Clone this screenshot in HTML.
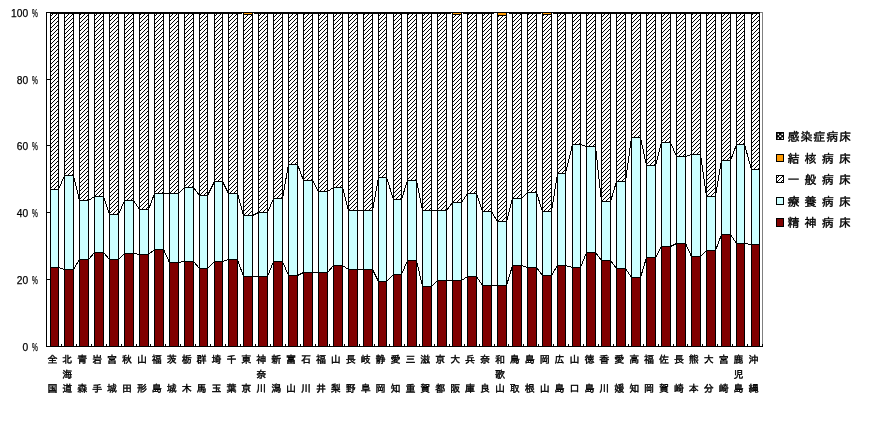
<!DOCTYPE html>
<html lang="ja"><head><meta charset="utf-8"><title>病床の種類別構成割合</title>
<style>html,body{margin:0;padding:0;background:#fff}body{width:876px;height:430px;overflow:hidden}svg{display:block}.j{font-family:"Liberation Sans","IPAGothic","Noto Sans CJK JP",sans-serif;fill:#000;stroke:#000;stroke-width:.4px}.n{font-family:"Liberation Sans",sans-serif;fill:#000;font-size:11px;stroke:#000;stroke-width:.25px}</style></head><body>
<svg width="876" height="430" viewBox="0 0 876 430">
<defs><pattern id="h" width="4" height="4" patternUnits="userSpaceOnUse" shape-rendering="crispEdges"><rect width="4" height="4" fill="#fff"/><rect x="2" y="0" width="1" height="1"/><rect x="1" y="1" width="1" height="1"/><rect x="0" y="2" width="1" height="1"/><rect x="3" y="3" width="1" height="1"/></pattern></defs>
<rect width="876" height="430" fill="#fff"/>
<g shape-rendering="crispEdges">
<rect x="46" y="12" width="717" height="1" fill="#808080"/>
<rect x="762" y="12" width="1" height="335" fill="#808080"/>
<line x1="58.5" y1="189.5" x2="64.5" y2="175.5" stroke="#000" stroke-width="1"/>
<line x1="58.5" y1="267.5" x2="64.5" y2="269.5" stroke="#000" stroke-width="1"/>
<line x1="73.5" y1="175.5" x2="79.5" y2="200.5" stroke="#000" stroke-width="1"/>
<line x1="73.5" y1="269.5" x2="79.5" y2="259.5" stroke="#000" stroke-width="1"/>
<line x1="88.5" y1="200.5" x2="94.5" y2="196.5" stroke="#000" stroke-width="1"/>
<line x1="88.5" y1="259.5" x2="94.5" y2="252.5" stroke="#000" stroke-width="1"/>
<line x1="103.5" y1="196.5" x2="109.5" y2="214.5" stroke="#000" stroke-width="1"/>
<line x1="103.5" y1="252.5" x2="109.5" y2="259.5" stroke="#000" stroke-width="1"/>
<line x1="118.5" y1="214.5" x2="124.5" y2="200.5" stroke="#000" stroke-width="1"/>
<line x1="118.5" y1="259.5" x2="124.5" y2="253.5" stroke="#000" stroke-width="1"/>
<line x1="133.5" y1="200.5" x2="139.5" y2="209.5" stroke="#000" stroke-width="1"/>
<line x1="133.5" y1="253.5" x2="139.5" y2="254.5" stroke="#000" stroke-width="1"/>
<line x1="148.5" y1="209.5" x2="154.5" y2="193.5" stroke="#000" stroke-width="1"/>
<line x1="148.5" y1="254.5" x2="154.5" y2="249.5" stroke="#000" stroke-width="1"/>
<line x1="163.5" y1="193.5" x2="169.5" y2="193.5" stroke="#000" stroke-width="1"/>
<line x1="163.5" y1="249.5" x2="169.5" y2="262.5" stroke="#000" stroke-width="1"/>
<line x1="178.5" y1="193.5" x2="184.5" y2="187.5" stroke="#000" stroke-width="1"/>
<line x1="178.5" y1="262.5" x2="184.5" y2="261.5" stroke="#000" stroke-width="1"/>
<line x1="193.5" y1="187.5" x2="199.5" y2="195.5" stroke="#000" stroke-width="1"/>
<line x1="193.5" y1="261.5" x2="199.5" y2="268.5" stroke="#000" stroke-width="1"/>
<line x1="207.5" y1="195.5" x2="214.5" y2="181.5" stroke="#000" stroke-width="1"/>
<line x1="207.5" y1="268.5" x2="214.5" y2="261.5" stroke="#000" stroke-width="1"/>
<line x1="222.5" y1="181.5" x2="228.5" y2="193.5" stroke="#000" stroke-width="1"/>
<line x1="222.5" y1="261.5" x2="228.5" y2="259.5" stroke="#000" stroke-width="1"/>
<line x1="237.5" y1="193.5" x2="243.5" y2="215.5" stroke="#000" stroke-width="1"/>
<line x1="237.5" y1="259.5" x2="243.5" y2="276.5" stroke="#000" stroke-width="1"/>
<line x1="252.5" y1="215.5" x2="258.5" y2="212.5" stroke="#000" stroke-width="1"/>
<line x1="252.5" y1="276.5" x2="258.5" y2="276.5" stroke="#000" stroke-width="1"/>
<line x1="267.5" y1="212.5" x2="273.5" y2="198.5" stroke="#000" stroke-width="1"/>
<line x1="267.5" y1="276.5" x2="273.5" y2="261.5" stroke="#000" stroke-width="1"/>
<line x1="282.5" y1="198.5" x2="288.5" y2="164.5" stroke="#000" stroke-width="1"/>
<line x1="282.5" y1="261.5" x2="288.5" y2="275.5" stroke="#000" stroke-width="1"/>
<line x1="297.5" y1="164.5" x2="303.5" y2="180.5" stroke="#000" stroke-width="1"/>
<line x1="297.5" y1="275.5" x2="303.5" y2="272.5" stroke="#000" stroke-width="1"/>
<line x1="312.5" y1="180.5" x2="318.5" y2="191.5" stroke="#000" stroke-width="1"/>
<line x1="312.5" y1="272.5" x2="318.5" y2="272.5" stroke="#000" stroke-width="1"/>
<line x1="327.5" y1="191.5" x2="333.5" y2="187.5" stroke="#000" stroke-width="1"/>
<line x1="327.5" y1="272.5" x2="333.5" y2="265.5" stroke="#000" stroke-width="1"/>
<line x1="342.5" y1="187.5" x2="348.5" y2="210.5" stroke="#000" stroke-width="1"/>
<line x1="342.5" y1="265.5" x2="348.5" y2="269.5" stroke="#000" stroke-width="1"/>
<line x1="357.5" y1="210.5" x2="363.5" y2="210.5" stroke="#000" stroke-width="1"/>
<line x1="357.5" y1="269.5" x2="363.5" y2="269.5" stroke="#000" stroke-width="1"/>
<line x1="372.5" y1="210.5" x2="378.5" y2="177.5" stroke="#000" stroke-width="1"/>
<line x1="372.5" y1="269.5" x2="378.5" y2="281.5" stroke="#000" stroke-width="1"/>
<line x1="386.5" y1="177.5" x2="393.5" y2="199.5" stroke="#000" stroke-width="1"/>
<line x1="386.5" y1="281.5" x2="393.5" y2="274.5" stroke="#000" stroke-width="1"/>
<line x1="401.5" y1="199.5" x2="407.5" y2="180.5" stroke="#000" stroke-width="1"/>
<line x1="401.5" y1="274.5" x2="407.5" y2="260.5" stroke="#000" stroke-width="1"/>
<line x1="416.5" y1="180.5" x2="422.5" y2="210.5" stroke="#000" stroke-width="1"/>
<line x1="416.5" y1="260.5" x2="422.5" y2="286.5" stroke="#000" stroke-width="1"/>
<line x1="431.5" y1="210.5" x2="437.5" y2="210.5" stroke="#000" stroke-width="1"/>
<line x1="431.5" y1="286.5" x2="437.5" y2="280.5" stroke="#000" stroke-width="1"/>
<line x1="446.5" y1="210.5" x2="452.5" y2="202.5" stroke="#000" stroke-width="1"/>
<line x1="446.5" y1="280.5" x2="452.5" y2="280.5" stroke="#000" stroke-width="1"/>
<line x1="461.5" y1="202.5" x2="467.5" y2="193.5" stroke="#000" stroke-width="1"/>
<line x1="461.5" y1="280.5" x2="467.5" y2="276.5" stroke="#000" stroke-width="1"/>
<line x1="476.5" y1="193.5" x2="482.5" y2="211.5" stroke="#000" stroke-width="1"/>
<line x1="476.5" y1="276.5" x2="482.5" y2="285.5" stroke="#000" stroke-width="1"/>
<line x1="491.5" y1="211.5" x2="497.5" y2="221.5" stroke="#000" stroke-width="1"/>
<line x1="491.5" y1="285.5" x2="497.5" y2="285.5" stroke="#000" stroke-width="1"/>
<line x1="506.5" y1="221.5" x2="512.5" y2="198.5" stroke="#000" stroke-width="1"/>
<line x1="506.5" y1="285.5" x2="512.5" y2="265.5" stroke="#000" stroke-width="1"/>
<line x1="521.5" y1="198.5" x2="527.5" y2="192.5" stroke="#000" stroke-width="1"/>
<line x1="521.5" y1="265.5" x2="527.5" y2="267.5" stroke="#000" stroke-width="1"/>
<line x1="536.5" y1="192.5" x2="542.5" y2="211.5" stroke="#000" stroke-width="1"/>
<line x1="536.5" y1="267.5" x2="542.5" y2="275.5" stroke="#000" stroke-width="1"/>
<line x1="551.5" y1="211.5" x2="557.5" y2="173.5" stroke="#000" stroke-width="1"/>
<line x1="551.5" y1="275.5" x2="557.5" y2="265.5" stroke="#000" stroke-width="1"/>
<line x1="565.5" y1="173.5" x2="572.5" y2="144.5" stroke="#000" stroke-width="1"/>
<line x1="565.5" y1="265.5" x2="572.5" y2="267.5" stroke="#000" stroke-width="1"/>
<line x1="580.5" y1="144.5" x2="586.5" y2="146.5" stroke="#000" stroke-width="1"/>
<line x1="580.5" y1="267.5" x2="586.5" y2="252.5" stroke="#000" stroke-width="1"/>
<line x1="595.5" y1="146.5" x2="601.5" y2="201.5" stroke="#000" stroke-width="1"/>
<line x1="595.5" y1="252.5" x2="601.5" y2="260.5" stroke="#000" stroke-width="1"/>
<line x1="610.5" y1="201.5" x2="616.5" y2="181.5" stroke="#000" stroke-width="1"/>
<line x1="610.5" y1="260.5" x2="616.5" y2="268.5" stroke="#000" stroke-width="1"/>
<line x1="625.5" y1="181.5" x2="631.5" y2="137.5" stroke="#000" stroke-width="1"/>
<line x1="625.5" y1="268.5" x2="631.5" y2="277.5" stroke="#000" stroke-width="1"/>
<line x1="640.5" y1="137.5" x2="646.5" y2="165.5" stroke="#000" stroke-width="1"/>
<line x1="640.5" y1="277.5" x2="646.5" y2="257.5" stroke="#000" stroke-width="1"/>
<line x1="655.5" y1="165.5" x2="661.5" y2="142.5" stroke="#000" stroke-width="1"/>
<line x1="655.5" y1="257.5" x2="661.5" y2="246.5" stroke="#000" stroke-width="1"/>
<line x1="670.5" y1="142.5" x2="676.5" y2="156.5" stroke="#000" stroke-width="1"/>
<line x1="670.5" y1="246.5" x2="676.5" y2="243.5" stroke="#000" stroke-width="1"/>
<line x1="685.5" y1="156.5" x2="691.5" y2="154.5" stroke="#000" stroke-width="1"/>
<line x1="685.5" y1="243.5" x2="691.5" y2="256.5" stroke="#000" stroke-width="1"/>
<line x1="700.5" y1="154.5" x2="706.5" y2="196.5" stroke="#000" stroke-width="1"/>
<line x1="700.5" y1="256.5" x2="706.5" y2="250.5" stroke="#000" stroke-width="1"/>
<line x1="715.5" y1="196.5" x2="721.5" y2="160.5" stroke="#000" stroke-width="1"/>
<line x1="715.5" y1="250.5" x2="721.5" y2="234.5" stroke="#000" stroke-width="1"/>
<line x1="730.5" y1="160.5" x2="736.5" y2="144.5" stroke="#000" stroke-width="1"/>
<line x1="730.5" y1="234.5" x2="736.5" y2="243.5" stroke="#000" stroke-width="1"/>
<line x1="744.5" y1="144.5" x2="751.5" y2="169.5" stroke="#000" stroke-width="1"/>
<line x1="744.5" y1="243.5" x2="751.5" y2="244.5" stroke="#000" stroke-width="1"/>
<rect x="47" y="12" width="713" height="1" fill="#000"/><rect x="50" y="13" width="710" height="1" fill="#000"/>
<rect x="242" y="13" width="1" height="1" fill="#fff"/><rect x="253" y="13" width="1" height="1" fill="#fff"/>
<rect x="451" y="13" width="1" height="1" fill="#fff"/><rect x="462" y="13" width="1" height="1" fill="#fff"/>
<rect x="494" y="13" width="3" height="1" fill="#fff"/><rect x="507" y="13" width="2" height="1" fill="#fff"/>
<rect x="541" y="13" width="1" height="1" fill="#fff"/><rect x="552" y="13" width="1" height="1" fill="#fff"/>
<rect x="50" y="13" width="9" height="334" fill="#000"/>
<rect x="51" y="14" width="7" height="175" fill="url(#h)"/>
<rect x="51" y="190" width="7" height="77" fill="#cff"/>
<rect x="51" y="268" width="7" height="78" fill="#800000"/>
<rect x="64" y="13" width="10" height="334" fill="#000"/>
<rect x="65" y="14" width="8" height="161" fill="url(#h)"/>
<rect x="65" y="176" width="8" height="93" fill="#cff"/>
<rect x="65" y="270" width="8" height="76" fill="#800000"/>
<rect x="79" y="13" width="10" height="334" fill="#000"/>
<rect x="80" y="14" width="8" height="186" fill="url(#h)"/>
<rect x="80" y="201" width="8" height="58" fill="#cff"/>
<rect x="80" y="260" width="8" height="86" fill="#800000"/>
<rect x="94" y="13" width="10" height="334" fill="#000"/>
<rect x="95" y="14" width="8" height="182" fill="url(#h)"/>
<rect x="95" y="197" width="8" height="55" fill="#cff"/>
<rect x="95" y="253" width="8" height="93" fill="#800000"/>
<rect x="109" y="13" width="10" height="334" fill="#000"/>
<rect x="110" y="14" width="8" height="200" fill="url(#h)"/>
<rect x="110" y="215" width="8" height="44" fill="#cff"/>
<rect x="110" y="260" width="8" height="86" fill="#800000"/>
<rect x="124" y="13" width="10" height="334" fill="#000"/>
<rect x="125" y="14" width="8" height="186" fill="url(#h)"/>
<rect x="125" y="201" width="8" height="52" fill="#cff"/>
<rect x="125" y="254" width="8" height="92" fill="#800000"/>
<rect x="139" y="13" width="10" height="334" fill="#000"/>
<rect x="140" y="14" width="8" height="195" fill="url(#h)"/>
<rect x="140" y="210" width="8" height="44" fill="#cff"/>
<rect x="140" y="255" width="8" height="91" fill="#800000"/>
<rect x="154" y="13" width="10" height="334" fill="#000"/>
<rect x="155" y="14" width="8" height="179" fill="url(#h)"/>
<rect x="155" y="194" width="8" height="55" fill="#cff"/>
<rect x="155" y="250" width="8" height="96" fill="#800000"/>
<rect x="169" y="13" width="10" height="334" fill="#000"/>
<rect x="170" y="14" width="8" height="179" fill="url(#h)"/>
<rect x="170" y="194" width="8" height="68" fill="#cff"/>
<rect x="170" y="263" width="8" height="83" fill="#800000"/>
<rect x="184" y="13" width="10" height="334" fill="#000"/>
<rect x="185" y="14" width="8" height="173" fill="url(#h)"/>
<rect x="185" y="188" width="8" height="73" fill="#cff"/>
<rect x="185" y="262" width="8" height="84" fill="#800000"/>
<rect x="199" y="13" width="9" height="334" fill="#000"/>
<rect x="200" y="14" width="7" height="181" fill="url(#h)"/>
<rect x="200" y="196" width="7" height="72" fill="#cff"/>
<rect x="200" y="269" width="7" height="77" fill="#800000"/>
<rect x="214" y="13" width="9" height="334" fill="#000"/>
<rect x="215" y="14" width="7" height="167" fill="url(#h)"/>
<rect x="215" y="182" width="7" height="79" fill="#cff"/>
<rect x="215" y="262" width="7" height="84" fill="#800000"/>
<rect x="228" y="13" width="10" height="334" fill="#000"/>
<rect x="229" y="14" width="8" height="179" fill="url(#h)"/>
<rect x="229" y="194" width="8" height="65" fill="#cff"/>
<rect x="229" y="260" width="8" height="86" fill="#800000"/>
<rect x="243" y="13" width="10" height="334" fill="#000"/>
<rect x="244" y="13" width="8" height="1" fill="#f90"/>
<rect x="244" y="15" width="8" height="200" fill="url(#h)"/>
<rect x="244" y="216" width="8" height="60" fill="#cff"/>
<rect x="244" y="277" width="8" height="69" fill="#800000"/>
<rect x="258" y="13" width="10" height="334" fill="#000"/>
<rect x="259" y="14" width="8" height="198" fill="url(#h)"/>
<rect x="259" y="213" width="8" height="63" fill="#cff"/>
<rect x="259" y="277" width="8" height="69" fill="#800000"/>
<rect x="273" y="13" width="10" height="334" fill="#000"/>
<rect x="274" y="14" width="8" height="184" fill="url(#h)"/>
<rect x="274" y="199" width="8" height="62" fill="#cff"/>
<rect x="274" y="262" width="8" height="84" fill="#800000"/>
<rect x="288" y="13" width="10" height="334" fill="#000"/>
<rect x="289" y="14" width="8" height="150" fill="url(#h)"/>
<rect x="289" y="165" width="8" height="110" fill="#cff"/>
<rect x="289" y="276" width="8" height="70" fill="#800000"/>
<rect x="303" y="13" width="10" height="334" fill="#000"/>
<rect x="304" y="14" width="8" height="166" fill="url(#h)"/>
<rect x="304" y="181" width="8" height="91" fill="#cff"/>
<rect x="304" y="273" width="8" height="73" fill="#800000"/>
<rect x="318" y="13" width="10" height="334" fill="#000"/>
<rect x="319" y="14" width="8" height="177" fill="url(#h)"/>
<rect x="319" y="192" width="8" height="80" fill="#cff"/>
<rect x="319" y="273" width="8" height="73" fill="#800000"/>
<rect x="333" y="13" width="10" height="334" fill="#000"/>
<rect x="334" y="14" width="8" height="173" fill="url(#h)"/>
<rect x="334" y="188" width="8" height="77" fill="#cff"/>
<rect x="334" y="266" width="8" height="80" fill="#800000"/>
<rect x="348" y="13" width="10" height="334" fill="#000"/>
<rect x="349" y="14" width="8" height="196" fill="url(#h)"/>
<rect x="349" y="211" width="8" height="58" fill="#cff"/>
<rect x="349" y="270" width="8" height="76" fill="#800000"/>
<rect x="363" y="13" width="10" height="334" fill="#000"/>
<rect x="364" y="14" width="8" height="196" fill="url(#h)"/>
<rect x="364" y="211" width="8" height="58" fill="#cff"/>
<rect x="364" y="270" width="8" height="76" fill="#800000"/>
<rect x="378" y="13" width="9" height="334" fill="#000"/>
<rect x="379" y="14" width="7" height="163" fill="url(#h)"/>
<rect x="379" y="178" width="7" height="103" fill="#cff"/>
<rect x="379" y="282" width="7" height="64" fill="#800000"/>
<rect x="393" y="13" width="9" height="334" fill="#000"/>
<rect x="394" y="14" width="7" height="185" fill="url(#h)"/>
<rect x="394" y="200" width="7" height="74" fill="#cff"/>
<rect x="394" y="275" width="7" height="71" fill="#800000"/>
<rect x="407" y="13" width="10" height="334" fill="#000"/>
<rect x="408" y="14" width="8" height="166" fill="url(#h)"/>
<rect x="408" y="181" width="8" height="79" fill="#cff"/>
<rect x="408" y="261" width="8" height="85" fill="#800000"/>
<rect x="422" y="13" width="10" height="334" fill="#000"/>
<rect x="423" y="14" width="8" height="196" fill="url(#h)"/>
<rect x="423" y="211" width="8" height="75" fill="#cff"/>
<rect x="423" y="287" width="8" height="59" fill="#800000"/>
<rect x="437" y="13" width="10" height="334" fill="#000"/>
<rect x="438" y="14" width="8" height="196" fill="url(#h)"/>
<rect x="438" y="211" width="8" height="69" fill="#cff"/>
<rect x="438" y="281" width="8" height="65" fill="#800000"/>
<rect x="452" y="13" width="10" height="334" fill="#000"/>
<rect x="453" y="13" width="8" height="1" fill="#f90"/>
<rect x="453" y="15" width="8" height="187" fill="url(#h)"/>
<rect x="453" y="203" width="8" height="77" fill="#cff"/>
<rect x="453" y="281" width="8" height="65" fill="#800000"/>
<rect x="467" y="13" width="10" height="334" fill="#000"/>
<rect x="468" y="14" width="8" height="179" fill="url(#h)"/>
<rect x="468" y="194" width="8" height="82" fill="#cff"/>
<rect x="468" y="277" width="8" height="69" fill="#800000"/>
<rect x="482" y="13" width="10" height="334" fill="#000"/>
<rect x="483" y="14" width="8" height="197" fill="url(#h)"/>
<rect x="483" y="212" width="8" height="73" fill="#cff"/>
<rect x="483" y="286" width="8" height="60" fill="#800000"/>
<rect x="497" y="13" width="10" height="334" fill="#000"/>
<rect x="498" y="13" width="8" height="2" fill="#f90"/>
<rect x="498" y="16" width="8" height="205" fill="url(#h)"/>
<rect x="498" y="222" width="8" height="63" fill="#cff"/>
<rect x="498" y="286" width="8" height="60" fill="#800000"/>
<rect x="512" y="13" width="10" height="334" fill="#000"/>
<rect x="513" y="14" width="8" height="184" fill="url(#h)"/>
<rect x="513" y="199" width="8" height="66" fill="#cff"/>
<rect x="513" y="266" width="8" height="80" fill="#800000"/>
<rect x="527" y="13" width="10" height="334" fill="#000"/>
<rect x="528" y="14" width="8" height="178" fill="url(#h)"/>
<rect x="528" y="193" width="8" height="74" fill="#cff"/>
<rect x="528" y="268" width="8" height="78" fill="#800000"/>
<rect x="542" y="13" width="10" height="334" fill="#000"/>
<rect x="543" y="13" width="8" height="1" fill="#f90"/>
<rect x="543" y="15" width="8" height="196" fill="url(#h)"/>
<rect x="543" y="212" width="8" height="63" fill="#cff"/>
<rect x="543" y="276" width="8" height="70" fill="#800000"/>
<rect x="557" y="13" width="9" height="334" fill="#000"/>
<rect x="558" y="14" width="7" height="159" fill="url(#h)"/>
<rect x="558" y="174" width="7" height="91" fill="#cff"/>
<rect x="558" y="266" width="7" height="80" fill="#800000"/>
<rect x="572" y="13" width="9" height="334" fill="#000"/>
<rect x="573" y="14" width="7" height="130" fill="url(#h)"/>
<rect x="573" y="145" width="7" height="122" fill="#cff"/>
<rect x="573" y="268" width="7" height="78" fill="#800000"/>
<rect x="586" y="13" width="10" height="334" fill="#000"/>
<rect x="587" y="14" width="8" height="132" fill="url(#h)"/>
<rect x="587" y="147" width="8" height="105" fill="#cff"/>
<rect x="587" y="253" width="8" height="93" fill="#800000"/>
<rect x="601" y="13" width="10" height="334" fill="#000"/>
<rect x="602" y="14" width="8" height="187" fill="url(#h)"/>
<rect x="602" y="202" width="8" height="58" fill="#cff"/>
<rect x="602" y="261" width="8" height="85" fill="#800000"/>
<rect x="616" y="13" width="10" height="334" fill="#000"/>
<rect x="617" y="14" width="8" height="167" fill="url(#h)"/>
<rect x="617" y="182" width="8" height="86" fill="#cff"/>
<rect x="617" y="269" width="8" height="77" fill="#800000"/>
<rect x="631" y="13" width="10" height="334" fill="#000"/>
<rect x="632" y="14" width="8" height="123" fill="url(#h)"/>
<rect x="632" y="138" width="8" height="139" fill="#cff"/>
<rect x="632" y="278" width="8" height="68" fill="#800000"/>
<rect x="646" y="13" width="10" height="334" fill="#000"/>
<rect x="647" y="14" width="8" height="151" fill="url(#h)"/>
<rect x="647" y="166" width="8" height="91" fill="#cff"/>
<rect x="647" y="258" width="8" height="88" fill="#800000"/>
<rect x="661" y="13" width="10" height="334" fill="#000"/>
<rect x="662" y="14" width="8" height="128" fill="url(#h)"/>
<rect x="662" y="143" width="8" height="103" fill="#cff"/>
<rect x="662" y="247" width="8" height="99" fill="#800000"/>
<rect x="676" y="13" width="10" height="334" fill="#000"/>
<rect x="677" y="14" width="8" height="142" fill="url(#h)"/>
<rect x="677" y="157" width="8" height="86" fill="#cff"/>
<rect x="677" y="244" width="8" height="102" fill="#800000"/>
<rect x="691" y="13" width="10" height="334" fill="#000"/>
<rect x="692" y="14" width="8" height="140" fill="url(#h)"/>
<rect x="692" y="155" width="8" height="101" fill="#cff"/>
<rect x="692" y="257" width="8" height="89" fill="#800000"/>
<rect x="706" y="13" width="10" height="334" fill="#000"/>
<rect x="707" y="14" width="8" height="182" fill="url(#h)"/>
<rect x="707" y="197" width="8" height="53" fill="#cff"/>
<rect x="707" y="251" width="8" height="95" fill="#800000"/>
<rect x="721" y="13" width="10" height="334" fill="#000"/>
<rect x="722" y="14" width="8" height="146" fill="url(#h)"/>
<rect x="722" y="161" width="8" height="73" fill="#cff"/>
<rect x="722" y="235" width="8" height="111" fill="#800000"/>
<rect x="736" y="13" width="9" height="334" fill="#000"/>
<rect x="737" y="14" width="7" height="130" fill="url(#h)"/>
<rect x="737" y="145" width="7" height="98" fill="#cff"/>
<rect x="737" y="244" width="7" height="102" fill="#800000"/>
<rect x="751" y="13" width="9" height="334" fill="#000"/>
<rect x="752" y="14" width="7" height="155" fill="url(#h)"/>
<rect x="752" y="170" width="7" height="74" fill="#cff"/>
<rect x="752" y="245" width="7" height="101" fill="#800000"/>
<rect x="46" y="12" width="1" height="335" fill="#000"/>
<rect x="46" y="346" width="717" height="1" fill="#000"/>
<rect x="46" y="346" width="4" height="1" fill="#000"/>
<rect x="46" y="279" width="4" height="1" fill="#000"/>
<rect x="46" y="212" width="4" height="1" fill="#000"/>
<rect x="46" y="145" width="4" height="1" fill="#000"/>
<rect x="46" y="79" width="4" height="1" fill="#000"/>
<rect x="46" y="12" width="4" height="1" fill="#000"/>
<rect x="61" y="344" width="1" height="3" fill="#000"/>
<rect x="76" y="344" width="1" height="3" fill="#000"/>
<rect x="91" y="344" width="1" height="3" fill="#000"/>
<rect x="106" y="344" width="1" height="3" fill="#000"/>
<rect x="121" y="344" width="1" height="3" fill="#000"/>
<rect x="136" y="344" width="1" height="3" fill="#000"/>
<rect x="150" y="344" width="1" height="3" fill="#000"/>
<rect x="165" y="344" width="1" height="3" fill="#000"/>
<rect x="180" y="344" width="1" height="3" fill="#000"/>
<rect x="195" y="344" width="1" height="3" fill="#000"/>
<rect x="210" y="344" width="1" height="3" fill="#000"/>
<rect x="225" y="344" width="1" height="3" fill="#000"/>
<rect x="240" y="344" width="1" height="3" fill="#000"/>
<rect x="255" y="344" width="1" height="3" fill="#000"/>
<rect x="270" y="344" width="1" height="3" fill="#000"/>
<rect x="285" y="344" width="1" height="3" fill="#000"/>
<rect x="300" y="344" width="1" height="3" fill="#000"/>
<rect x="315" y="344" width="1" height="3" fill="#000"/>
<rect x="329" y="344" width="1" height="3" fill="#000"/>
<rect x="344" y="344" width="1" height="3" fill="#000"/>
<rect x="359" y="344" width="1" height="3" fill="#000"/>
<rect x="374" y="344" width="1" height="3" fill="#000"/>
<rect x="389" y="344" width="1" height="3" fill="#000"/>
<rect x="404" y="344" width="1" height="3" fill="#000"/>
<rect x="419" y="344" width="1" height="3" fill="#000"/>
<rect x="434" y="344" width="1" height="3" fill="#000"/>
<rect x="449" y="344" width="1" height="3" fill="#000"/>
<rect x="464" y="344" width="1" height="3" fill="#000"/>
<rect x="479" y="344" width="1" height="3" fill="#000"/>
<rect x="494" y="344" width="1" height="3" fill="#000"/>
<rect x="508" y="344" width="1" height="3" fill="#000"/>
<rect x="523" y="344" width="1" height="3" fill="#000"/>
<rect x="538" y="344" width="1" height="3" fill="#000"/>
<rect x="553" y="344" width="1" height="3" fill="#000"/>
<rect x="568" y="344" width="1" height="3" fill="#000"/>
<rect x="583" y="344" width="1" height="3" fill="#000"/>
<rect x="598" y="344" width="1" height="3" fill="#000"/>
<rect x="613" y="344" width="1" height="3" fill="#000"/>
<rect x="628" y="344" width="1" height="3" fill="#000"/>
<rect x="643" y="344" width="1" height="3" fill="#000"/>
<rect x="658" y="344" width="1" height="3" fill="#000"/>
<rect x="673" y="344" width="1" height="3" fill="#000"/>
<rect x="687" y="344" width="1" height="3" fill="#000"/>
<rect x="702" y="344" width="1" height="3" fill="#000"/>
<rect x="717" y="344" width="1" height="3" fill="#000"/>
<rect x="732" y="344" width="1" height="3" fill="#000"/>
<rect x="747" y="344" width="1" height="3" fill="#000"/>
<rect x="762" y="344" width="1" height="3" fill="#000"/>
<rect x="776" y="132" width="8" height="8" fill="#000"/>
<rect x="777" y="133" width="6" height="6" fill="#000"/>
<rect x="776" y="154" width="8" height="8" fill="#000"/>
<rect x="777" y="155" width="6" height="6" fill="#f90"/>
<rect x="776" y="175" width="8" height="8" fill="#000"/>
<rect x="777" y="176" width="6" height="6" fill="url(#h)"/>
<rect x="776" y="197" width="8" height="8" fill="#000"/>
<rect x="777" y="198" width="6" height="6" fill="#cff"/>
<rect x="776" y="218" width="8" height="9" fill="#000"/>
<rect x="777" y="219" width="6" height="7" fill="#800000"/>
<rect x="777.6" y="133.7" width="1.4" height="1.4" fill="#fff" shape-rendering="auto"/>
<rect x="781.5" y="133.7" width="1.5" height="1.4" fill="#fff" shape-rendering="auto"/>
<rect x="779.3" y="135.4" width="1.9" height="1.7" fill="#fff" shape-rendering="auto"/>
<rect x="777.6" y="137.4" width="1.4" height="1.6" fill="#fff" shape-rendering="auto"/>
<rect x="781.5" y="137.4" width="1.5" height="1.6" fill="#fff" shape-rendering="auto"/>
</g>
<text class="n" x="28.2" y="350.7" text-anchor="end" textLength="5.7" lengthAdjust="spacingAndGlyphs">0</text>
<text class="n" x="32" y="350.7" textLength="5.8" lengthAdjust="spacingAndGlyphs">%</text>
<text class="n" x="28.2" y="283.9" text-anchor="end" textLength="11.4" lengthAdjust="spacingAndGlyphs">20</text>
<text class="n" x="32" y="283.9" textLength="5.8" lengthAdjust="spacingAndGlyphs">%</text>
<text class="n" x="28.2" y="217.1" text-anchor="end" textLength="11.4" lengthAdjust="spacingAndGlyphs">40</text>
<text class="n" x="32" y="217.1" textLength="5.8" lengthAdjust="spacingAndGlyphs">%</text>
<text class="n" x="28.2" y="150.3" text-anchor="end" textLength="11.4" lengthAdjust="spacingAndGlyphs">60</text>
<text class="n" x="32" y="150.3" textLength="5.8" lengthAdjust="spacingAndGlyphs">%</text>
<text class="n" x="28.2" y="83.5" text-anchor="end" textLength="11.4" lengthAdjust="spacingAndGlyphs">80</text>
<text class="n" x="32" y="83.5" textLength="5.8" lengthAdjust="spacingAndGlyphs">%</text>
<text class="n" x="28.2" y="16.7" text-anchor="end" textLength="17.1" lengthAdjust="spacingAndGlyphs">100</text>
<text class="n" x="32" y="16.7" textLength="5.8" lengthAdjust="spacingAndGlyphs">%</text>
<text class="j" font-size="10" x="52.4" y="363.2" text-anchor="middle">全</text>
<text class="j" font-size="10" x="52.4" y="392.0" text-anchor="middle">国</text>
<text class="j" font-size="10" x="67.3" y="363.2" text-anchor="middle">北</text>
<text class="j" font-size="10" x="67.3" y="377.7" text-anchor="middle">海</text>
<text class="j" font-size="10" x="67.3" y="392.0" text-anchor="middle">道</text>
<text class="j" font-size="10" x="82.2" y="363.2" text-anchor="middle">青</text>
<text class="j" font-size="10" x="82.2" y="392.0" text-anchor="middle">森</text>
<text class="j" font-size="10" x="97.2" y="363.2" text-anchor="middle">岩</text>
<text class="j" font-size="10" x="97.2" y="392.0" text-anchor="middle">手</text>
<text class="j" font-size="10" x="112.1" y="363.2" text-anchor="middle">宮</text>
<text class="j" font-size="10" x="112.1" y="392.0" text-anchor="middle">城</text>
<text class="j" font-size="10" x="127.0" y="363.2" text-anchor="middle">秋</text>
<text class="j" font-size="10" x="127.0" y="392.0" text-anchor="middle">田</text>
<text class="j" font-size="10" x="141.9" y="363.2" text-anchor="middle">山</text>
<text class="j" font-size="10" x="141.9" y="392.0" text-anchor="middle">形</text>
<text class="j" font-size="10" x="156.8" y="363.2" text-anchor="middle">福</text>
<text class="j" font-size="10" x="156.8" y="392.0" text-anchor="middle">島</text>
<text class="j" font-size="10" x="171.7" y="363.2" text-anchor="middle">茨</text>
<text class="j" font-size="10" x="171.7" y="392.0" text-anchor="middle">城</text>
<text class="j" font-size="10" x="186.7" y="363.2" text-anchor="middle">栃</text>
<text class="j" font-size="10" x="186.7" y="392.0" text-anchor="middle">木</text>
<text class="j" font-size="10" x="201.6" y="363.2" text-anchor="middle">群</text>
<text class="j" font-size="10" x="201.6" y="392.0" text-anchor="middle">馬</text>
<text class="j" font-size="10" x="216.5" y="363.2" text-anchor="middle">埼</text>
<text class="j" font-size="10" x="216.5" y="392.0" text-anchor="middle">玉</text>
<text class="j" font-size="10" x="231.4" y="363.2" text-anchor="middle">千</text>
<text class="j" font-size="10" x="231.4" y="392.0" text-anchor="middle">葉</text>
<text class="j" font-size="10" x="246.3" y="363.2" text-anchor="middle">東</text>
<text class="j" font-size="10" x="246.3" y="392.0" text-anchor="middle">京</text>
<text class="j" font-size="10" x="261.2" y="363.2" text-anchor="middle">神</text>
<text class="j" font-size="10" x="261.2" y="377.7" text-anchor="middle">奈</text>
<text class="j" font-size="10" x="261.2" y="392.0" text-anchor="middle">川</text>
<text class="j" font-size="10" x="276.2" y="363.2" text-anchor="middle">新</text>
<text class="j" font-size="10" x="276.2" y="392.0" text-anchor="middle">潟</text>
<text class="j" font-size="10" x="291.1" y="363.2" text-anchor="middle">富</text>
<text class="j" font-size="10" x="291.1" y="392.0" text-anchor="middle">山</text>
<text class="j" font-size="10" x="306.0" y="363.2" text-anchor="middle">石</text>
<text class="j" font-size="10" x="306.0" y="392.0" text-anchor="middle">川</text>
<text class="j" font-size="10" x="320.9" y="363.2" text-anchor="middle">福</text>
<text class="j" font-size="10" x="320.9" y="392.0" text-anchor="middle">井</text>
<text class="j" font-size="10" x="335.8" y="363.2" text-anchor="middle">山</text>
<text class="j" font-size="10" x="335.8" y="392.0" text-anchor="middle">梨</text>
<text class="j" font-size="10" x="350.7" y="363.2" text-anchor="middle">長</text>
<text class="j" font-size="10" x="350.7" y="392.0" text-anchor="middle">野</text>
<text class="j" font-size="10" x="365.7" y="363.2" text-anchor="middle">岐</text>
<text class="j" font-size="10" x="365.7" y="392.0" text-anchor="middle">阜</text>
<text class="j" font-size="10" x="380.6" y="363.2" text-anchor="middle">静</text>
<text class="j" font-size="10" x="380.6" y="392.0" text-anchor="middle">岡</text>
<text class="j" font-size="10" x="395.5" y="363.2" text-anchor="middle">愛</text>
<text class="j" font-size="10" x="395.5" y="392.0" text-anchor="middle">知</text>
<text class="j" font-size="10" x="410.4" y="363.2" text-anchor="middle">三</text>
<text class="j" font-size="10" x="410.4" y="392.0" text-anchor="middle">重</text>
<text class="j" font-size="10" x="425.3" y="363.2" text-anchor="middle">滋</text>
<text class="j" font-size="10" x="425.3" y="392.0" text-anchor="middle">賀</text>
<text class="j" font-size="10" x="440.2" y="363.2" text-anchor="middle">京</text>
<text class="j" font-size="10" x="440.2" y="392.0" text-anchor="middle">都</text>
<text class="j" font-size="10" x="455.2" y="363.2" text-anchor="middle">大</text>
<text class="j" font-size="10" x="455.2" y="392.0" text-anchor="middle">阪</text>
<text class="j" font-size="10" x="470.1" y="363.2" text-anchor="middle">兵</text>
<text class="j" font-size="10" x="470.1" y="392.0" text-anchor="middle">庫</text>
<text class="j" font-size="10" x="485.0" y="363.2" text-anchor="middle">奈</text>
<text class="j" font-size="10" x="485.0" y="392.0" text-anchor="middle">良</text>
<text class="j" font-size="10" x="499.9" y="363.2" text-anchor="middle">和</text>
<text class="j" font-size="10" x="499.9" y="377.7" text-anchor="middle">歌</text>
<text class="j" font-size="10" x="499.9" y="392.0" text-anchor="middle">山</text>
<text class="j" font-size="10" x="514.8" y="363.2" text-anchor="middle">鳥</text>
<text class="j" font-size="10" x="514.8" y="392.0" text-anchor="middle">取</text>
<text class="j" font-size="10" x="529.7" y="363.2" text-anchor="middle">島</text>
<text class="j" font-size="10" x="529.7" y="392.0" text-anchor="middle">根</text>
<text class="j" font-size="10" x="544.7" y="363.2" text-anchor="middle">岡</text>
<text class="j" font-size="10" x="544.7" y="392.0" text-anchor="middle">山</text>
<text class="j" font-size="10" x="559.6" y="363.2" text-anchor="middle">広</text>
<text class="j" font-size="10" x="559.6" y="392.0" text-anchor="middle">島</text>
<text class="j" font-size="10" x="574.5" y="363.2" text-anchor="middle">山</text>
<text class="j" font-size="10" x="574.5" y="392.0" text-anchor="middle">口</text>
<text class="j" font-size="10" x="589.4" y="363.2" text-anchor="middle">徳</text>
<text class="j" font-size="10" x="589.4" y="392.0" text-anchor="middle">島</text>
<text class="j" font-size="10" x="604.3" y="363.2" text-anchor="middle">香</text>
<text class="j" font-size="10" x="604.3" y="392.0" text-anchor="middle">川</text>
<text class="j" font-size="10" x="619.2" y="363.2" text-anchor="middle">愛</text>
<text class="j" font-size="10" x="619.2" y="392.0" text-anchor="middle">媛</text>
<text class="j" font-size="10" x="634.2" y="363.2" text-anchor="middle">高</text>
<text class="j" font-size="10" x="634.2" y="392.0" text-anchor="middle">知</text>
<text class="j" font-size="10" x="649.1" y="363.2" text-anchor="middle">福</text>
<text class="j" font-size="10" x="649.1" y="392.0" text-anchor="middle">岡</text>
<text class="j" font-size="10" x="664.0" y="363.2" text-anchor="middle">佐</text>
<text class="j" font-size="10" x="664.0" y="392.0" text-anchor="middle">賀</text>
<text class="j" font-size="10" x="678.9" y="363.2" text-anchor="middle">長</text>
<text class="j" font-size="10" x="678.9" y="392.0" text-anchor="middle">崎</text>
<text class="j" font-size="10" x="693.8" y="363.2" text-anchor="middle">熊</text>
<text class="j" font-size="10" x="693.8" y="392.0" text-anchor="middle">本</text>
<text class="j" font-size="10" x="708.7" y="363.2" text-anchor="middle">大</text>
<text class="j" font-size="10" x="708.7" y="392.0" text-anchor="middle">分</text>
<text class="j" font-size="10" x="723.7" y="363.2" text-anchor="middle">宮</text>
<text class="j" font-size="10" x="723.7" y="392.0" text-anchor="middle">崎</text>
<text class="j" font-size="10" x="738.6" y="363.2" text-anchor="middle">鹿</text>
<text class="j" font-size="10" x="738.6" y="377.7" text-anchor="middle">児</text>
<text class="j" font-size="10" x="738.6" y="392.0" text-anchor="middle">島</text>
<text class="j" font-size="10" x="753.5" y="363.2" text-anchor="middle">沖</text>
<text class="j" font-size="10" x="753.5" y="392.0" text-anchor="middle">縄</text>
<text class="j" font-size="12" x="787.5" y="141" textLength="63.5" lengthAdjust="spacing">感染症病床</text>
<text class="j" font-size="12" x="787.5" y="163">結</text>
<text class="j" font-size="12" x="804.6" y="163">核</text>
<text class="j" font-size="12" x="821.7" y="163">病</text>
<text class="j" font-size="12" x="838.8" y="163">床</text>
<text class="j" font-size="12" x="787.5" y="184">一</text>
<text class="j" font-size="12" x="804.6" y="184">般</text>
<text class="j" font-size="12" x="821.7" y="184">病</text>
<text class="j" font-size="12" x="838.8" y="184">床</text>
<text class="j" font-size="12" x="787.5" y="206">療</text>
<text class="j" font-size="12" x="804.6" y="206">養</text>
<text class="j" font-size="12" x="821.7" y="206">病</text>
<text class="j" font-size="12" x="838.8" y="206">床</text>
<text class="j" font-size="12" x="787.5" y="227">精</text>
<text class="j" font-size="12" x="804.6" y="227">神</text>
<text class="j" font-size="12" x="821.7" y="227">病</text>
<text class="j" font-size="12" x="838.8" y="227">床</text>
</svg></body></html>
